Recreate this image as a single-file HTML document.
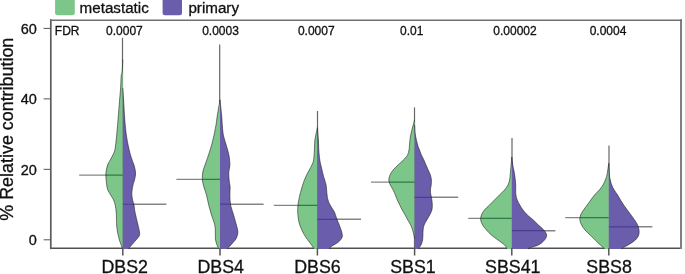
<!DOCTYPE html>
<html><head><meta charset="utf-8"><style>
html,body{margin:0;padding:0;background:#fff;}
body{width:685px;height:274px;overflow:hidden;}
svg{display:block;}
text{font-family:"Liberation Sans",sans-serif;fill:#111;stroke:#111;stroke-width:0.3px;}
svg{will-change:transform;}
.lg{font-size:15.2px;}
.pv{font-size:12px;}
.xl{font-size:17.8px;}
.yt{font-size:14.5px;}
.yl{font-size:17.9px;}
</style></head><body>
<svg width="685" height="274" viewBox="0 0 685 274">
<rect x="0" y="0" width="685" height="274" fill="#fff"/>
<rect x="55.1" y="-6" width="19.7" height="21.3" rx="2.5" fill="#7dc68a"/>
<rect x="162.6" y="-6" width="19.4" height="21.3" rx="2.5" fill="#6a5eac"/>
<text x="79.6" y="12.7" class="lg">metastatic</text>
<text x="188.4" y="12.7" class="lg">primary</text>
<line x1="50.1" y1="248.3" x2="681.9" y2="248.3" stroke="#505050" stroke-width="1.6"/>
<line x1="122.50" y1="37.80" x2="122.50" y2="248.50" stroke="#666" stroke-width="1.2"/>
<line x1="79.20" y1="175.10" x2="122.80" y2="175.10" stroke="#000" stroke-opacity="0.48" stroke-width="1.4"/>
<line x1="122.80" y1="204.25" x2="166.40" y2="204.25" stroke="#000" stroke-opacity="0.48" stroke-width="1.4"/>
<clipPath id="gDBS2"><path d="M122.80,59.50 C122.75,60.58 122.62,63.92 122.50,66.00 C122.38,68.08 122.32,70.33 122.10,72.00 C121.88,73.67 121.45,73.33 121.20,76.00 C120.95,78.67 120.87,84.00 120.60,88.00 C120.33,92.00 120.03,94.67 119.60,100.00 C119.17,105.33 118.50,114.00 118.00,120.00 C117.50,126.00 117.00,131.83 116.60,136.00 C116.20,140.17 115.98,142.33 115.60,145.00 C115.22,147.67 115.20,149.50 114.30,152.00 C113.40,154.50 111.32,157.83 110.20,160.00 C109.08,162.17 108.32,162.83 107.60,165.00 C106.88,167.17 106.13,170.50 105.90,173.00 C105.67,175.50 106.07,178.00 106.20,180.00 C106.33,182.00 106.43,183.33 106.70,185.00 C106.97,186.67 107.13,188.33 107.80,190.00 C108.47,191.67 109.73,193.33 110.70,195.00 C111.67,196.67 112.85,198.33 113.60,200.00 C114.35,201.67 114.77,203.00 115.20,205.00 C115.63,207.00 115.98,209.50 116.20,212.00 C116.42,214.50 116.43,217.83 116.50,220.00 C116.57,222.17 116.43,223.00 116.60,225.00 C116.77,227.00 117.03,229.50 117.50,232.00 C117.97,234.50 118.78,237.83 119.40,240.00 C120.02,242.17 120.72,243.67 121.20,245.00 C121.68,246.33 122.12,247.32 122.30,248.00 C122.48,248.68 122.30,248.92 122.30,249.10 L122.80,249.10 Z"/></clipPath><clipPath id="pDBS2"><path d="M122.80,88.00 C122.93,90.00 123.27,94.67 123.60,100.00 C123.93,105.33 124.32,114.00 124.80,120.00 C125.28,126.00 125.77,131.00 126.50,136.00 C127.23,141.00 128.27,146.00 129.20,150.00 C130.13,154.00 131.30,157.50 132.10,160.00 C132.90,162.50 133.42,162.83 134.00,165.00 C134.58,167.17 135.52,170.50 135.60,173.00 C135.68,175.50 134.93,178.00 134.50,180.00 C134.07,182.00 133.45,182.83 133.00,185.00 C132.55,187.17 131.87,190.50 131.80,193.00 C131.73,195.50 132.23,198.00 132.60,200.00 C132.97,202.00 133.60,203.00 134.00,205.00 C134.40,207.00 134.33,208.67 135.00,212.00 C135.67,215.33 137.25,221.67 138.00,225.00 C138.75,228.33 139.30,230.17 139.50,232.00 C139.70,233.83 139.78,234.67 139.20,236.00 C138.62,237.33 136.97,238.83 136.00,240.00 C135.03,241.17 134.27,242.00 133.40,243.00 C132.53,244.00 131.52,245.17 130.80,246.00 C130.08,246.83 129.38,247.48 129.10,248.00 C128.82,248.52 129.10,248.92 129.10,249.10 L122.80,249.10 Z"/></clipPath>
<path d="M122.80,59.50 C122.75,60.58 122.62,63.92 122.50,66.00 C122.38,68.08 122.32,70.33 122.10,72.00 C121.88,73.67 121.45,73.33 121.20,76.00 C120.95,78.67 120.87,84.00 120.60,88.00 C120.33,92.00 120.03,94.67 119.60,100.00 C119.17,105.33 118.50,114.00 118.00,120.00 C117.50,126.00 117.00,131.83 116.60,136.00 C116.20,140.17 115.98,142.33 115.60,145.00 C115.22,147.67 115.20,149.50 114.30,152.00 C113.40,154.50 111.32,157.83 110.20,160.00 C109.08,162.17 108.32,162.83 107.60,165.00 C106.88,167.17 106.13,170.50 105.90,173.00 C105.67,175.50 106.07,178.00 106.20,180.00 C106.33,182.00 106.43,183.33 106.70,185.00 C106.97,186.67 107.13,188.33 107.80,190.00 C108.47,191.67 109.73,193.33 110.70,195.00 C111.67,196.67 112.85,198.33 113.60,200.00 C114.35,201.67 114.77,203.00 115.20,205.00 C115.63,207.00 115.98,209.50 116.20,212.00 C116.42,214.50 116.43,217.83 116.50,220.00 C116.57,222.17 116.43,223.00 116.60,225.00 C116.77,227.00 117.03,229.50 117.50,232.00 C117.97,234.50 118.78,237.83 119.40,240.00 C120.02,242.17 120.72,243.67 121.20,245.00 C121.68,246.33 122.12,247.32 122.30,248.00 C122.48,248.68 122.30,248.92 122.30,249.10 L122.80,249.10 Z" fill="#7dc68a"/>
<path d="M122.80,88.00 C122.93,90.00 123.27,94.67 123.60,100.00 C123.93,105.33 124.32,114.00 124.80,120.00 C125.28,126.00 125.77,131.00 126.50,136.00 C127.23,141.00 128.27,146.00 129.20,150.00 C130.13,154.00 131.30,157.50 132.10,160.00 C132.90,162.50 133.42,162.83 134.00,165.00 C134.58,167.17 135.52,170.50 135.60,173.00 C135.68,175.50 134.93,178.00 134.50,180.00 C134.07,182.00 133.45,182.83 133.00,185.00 C132.55,187.17 131.87,190.50 131.80,193.00 C131.73,195.50 132.23,198.00 132.60,200.00 C132.97,202.00 133.60,203.00 134.00,205.00 C134.40,207.00 134.33,208.67 135.00,212.00 C135.67,215.33 137.25,221.67 138.00,225.00 C138.75,228.33 139.30,230.17 139.50,232.00 C139.70,233.83 139.78,234.67 139.20,236.00 C138.62,237.33 136.97,238.83 136.00,240.00 C135.03,241.17 134.27,242.00 133.40,243.00 C132.53,244.00 131.52,245.17 130.80,246.00 C130.08,246.83 129.38,247.48 129.10,248.00 C128.82,248.52 129.10,248.92 129.10,249.10 L122.80,249.10 Z" fill="#6a5eac"/>
<line x1="79.20" y1="175.10" x2="122.80" y2="175.10" stroke="#2f7a48" stroke-width="1.2" clip-path="url(#gDBS2)"/>
<line x1="122.80" y1="204.25" x2="166.40" y2="204.25" stroke="#4b3e8e" stroke-width="1.2" clip-path="url(#pDBS2)"/>
<path d="M122.80,59.50 C122.75,60.58 122.62,63.92 122.50,66.00 C122.38,68.08 122.32,70.33 122.10,72.00 C121.88,73.67 121.45,73.33 121.20,76.00 C120.95,78.67 120.87,84.00 120.60,88.00 C120.33,92.00 120.03,94.67 119.60,100.00 C119.17,105.33 118.50,114.00 118.00,120.00 C117.50,126.00 117.00,131.83 116.60,136.00 C116.20,140.17 115.98,142.33 115.60,145.00 C115.22,147.67 115.20,149.50 114.30,152.00 C113.40,154.50 111.32,157.83 110.20,160.00 C109.08,162.17 108.32,162.83 107.60,165.00 C106.88,167.17 106.13,170.50 105.90,173.00 C105.67,175.50 106.07,178.00 106.20,180.00 C106.33,182.00 106.43,183.33 106.70,185.00 C106.97,186.67 107.13,188.33 107.80,190.00 C108.47,191.67 109.73,193.33 110.70,195.00 C111.67,196.67 112.85,198.33 113.60,200.00 C114.35,201.67 114.77,203.00 115.20,205.00 C115.63,207.00 115.98,209.50 116.20,212.00 C116.42,214.50 116.43,217.83 116.50,220.00 C116.57,222.17 116.43,223.00 116.60,225.00 C116.77,227.00 117.03,229.50 117.50,232.00 C117.97,234.50 118.78,237.83 119.40,240.00 C120.02,242.17 120.72,243.67 121.20,245.00 C121.68,246.33 122.12,247.32 122.30,248.00 C122.48,248.68 122.30,248.92 122.30,249.10" fill="none" stroke="#1a1a1a" stroke-opacity="0.75" stroke-width="0.75"/>
<path d="M122.80,88.00 C122.93,90.00 123.27,94.67 123.60,100.00 C123.93,105.33 124.32,114.00 124.80,120.00 C125.28,126.00 125.77,131.00 126.50,136.00 C127.23,141.00 128.27,146.00 129.20,150.00 C130.13,154.00 131.30,157.50 132.10,160.00 C132.90,162.50 133.42,162.83 134.00,165.00 C134.58,167.17 135.52,170.50 135.60,173.00 C135.68,175.50 134.93,178.00 134.50,180.00 C134.07,182.00 133.45,182.83 133.00,185.00 C132.55,187.17 131.87,190.50 131.80,193.00 C131.73,195.50 132.23,198.00 132.60,200.00 C132.97,202.00 133.60,203.00 134.00,205.00 C134.40,207.00 134.33,208.67 135.00,212.00 C135.67,215.33 137.25,221.67 138.00,225.00 C138.75,228.33 139.30,230.17 139.50,232.00 C139.70,233.83 139.78,234.67 139.20,236.00 C138.62,237.33 136.97,238.83 136.00,240.00 C135.03,241.17 134.27,242.00 133.40,243.00 C132.53,244.00 131.52,245.17 130.80,246.00 C130.08,246.83 129.38,247.48 129.10,248.00 C128.82,248.52 129.10,248.92 129.10,249.10" fill="none" stroke="#1a1a1a" stroke-opacity="0.75" stroke-width="0.75"/>
<line x1="122.80" y1="248.00" x2="122.80" y2="255.50" stroke="#555" stroke-width="1.5"/>
<text x="124.70" y="273.2" class="xl" text-anchor="middle">DBS2</text>
<text x="124.40" y="35.2" class="pv" text-anchor="middle">0.0007</text>
<line x1="219.70" y1="44.50" x2="219.70" y2="248.50" stroke="#666" stroke-width="1.2"/>
<line x1="176.40" y1="179.40" x2="220.00" y2="179.40" stroke="#000" stroke-opacity="0.48" stroke-width="1.4"/>
<line x1="220.00" y1="204.20" x2="263.60" y2="204.20" stroke="#000" stroke-opacity="0.48" stroke-width="1.4"/>
<clipPath id="gDBS4"><path d="M220.00,99.80 C219.57,102.33 218.07,110.80 217.40,115.00 C216.73,119.20 216.55,121.67 216.00,125.00 C215.45,128.33 214.83,131.67 214.10,135.00 C213.37,138.33 212.53,141.67 211.60,145.00 C210.67,148.33 209.60,151.67 208.50,155.00 C207.40,158.33 205.95,162.17 205.00,165.00 C204.05,167.83 203.23,169.50 202.80,172.00 C202.37,174.50 202.22,177.50 202.40,180.00 C202.58,182.50 203.22,184.50 203.90,187.00 C204.58,189.50 205.70,192.00 206.50,195.00 C207.30,198.00 207.87,201.67 208.70,205.00 C209.53,208.33 210.48,211.67 211.50,215.00 C212.52,218.33 214.17,222.17 214.80,225.00 C215.43,227.83 215.20,229.83 215.30,232.00 C215.40,234.17 215.28,236.33 215.40,238.00 C215.52,239.67 215.67,240.67 216.00,242.00 C216.33,243.33 216.98,245.00 217.40,246.00 C217.82,247.00 218.32,247.48 218.50,248.00 C218.68,248.52 218.50,248.92 218.50,249.10 L220.00,249.10 Z"/></clipPath><clipPath id="pDBS4"><path d="M220.00,99.80 C220.27,102.33 221.22,110.80 221.60,115.00 C221.98,119.20 222.02,121.67 222.30,125.00 C222.58,128.33 222.65,131.67 223.30,135.00 C223.95,138.33 225.27,141.67 226.20,145.00 C227.13,148.33 228.28,151.67 228.90,155.00 C229.52,158.33 229.92,162.17 229.90,165.00 C229.88,167.83 228.93,169.50 228.80,172.00 C228.67,174.50 228.88,177.50 229.10,180.00 C229.32,182.50 229.97,184.50 230.10,187.00 C230.23,189.50 229.82,192.00 229.90,195.00 C229.98,198.00 229.98,201.67 230.60,205.00 C231.22,208.33 232.63,211.67 233.60,215.00 C234.57,218.33 235.68,222.17 236.40,225.00 C237.12,227.83 237.90,229.83 237.90,232.00 C237.90,234.17 237.13,236.33 236.40,238.00 C235.67,239.67 234.58,240.67 233.50,242.00 C232.42,243.33 230.90,245.00 229.90,246.00 C228.90,247.00 227.90,247.48 227.50,248.00 C227.10,248.52 227.50,248.92 227.50,249.10 L220.00,249.10 Z"/></clipPath>
<path d="M220.00,99.80 C219.57,102.33 218.07,110.80 217.40,115.00 C216.73,119.20 216.55,121.67 216.00,125.00 C215.45,128.33 214.83,131.67 214.10,135.00 C213.37,138.33 212.53,141.67 211.60,145.00 C210.67,148.33 209.60,151.67 208.50,155.00 C207.40,158.33 205.95,162.17 205.00,165.00 C204.05,167.83 203.23,169.50 202.80,172.00 C202.37,174.50 202.22,177.50 202.40,180.00 C202.58,182.50 203.22,184.50 203.90,187.00 C204.58,189.50 205.70,192.00 206.50,195.00 C207.30,198.00 207.87,201.67 208.70,205.00 C209.53,208.33 210.48,211.67 211.50,215.00 C212.52,218.33 214.17,222.17 214.80,225.00 C215.43,227.83 215.20,229.83 215.30,232.00 C215.40,234.17 215.28,236.33 215.40,238.00 C215.52,239.67 215.67,240.67 216.00,242.00 C216.33,243.33 216.98,245.00 217.40,246.00 C217.82,247.00 218.32,247.48 218.50,248.00 C218.68,248.52 218.50,248.92 218.50,249.10 L220.00,249.10 Z" fill="#7dc68a"/>
<path d="M220.00,99.80 C220.27,102.33 221.22,110.80 221.60,115.00 C221.98,119.20 222.02,121.67 222.30,125.00 C222.58,128.33 222.65,131.67 223.30,135.00 C223.95,138.33 225.27,141.67 226.20,145.00 C227.13,148.33 228.28,151.67 228.90,155.00 C229.52,158.33 229.92,162.17 229.90,165.00 C229.88,167.83 228.93,169.50 228.80,172.00 C228.67,174.50 228.88,177.50 229.10,180.00 C229.32,182.50 229.97,184.50 230.10,187.00 C230.23,189.50 229.82,192.00 229.90,195.00 C229.98,198.00 229.98,201.67 230.60,205.00 C231.22,208.33 232.63,211.67 233.60,215.00 C234.57,218.33 235.68,222.17 236.40,225.00 C237.12,227.83 237.90,229.83 237.90,232.00 C237.90,234.17 237.13,236.33 236.40,238.00 C235.67,239.67 234.58,240.67 233.50,242.00 C232.42,243.33 230.90,245.00 229.90,246.00 C228.90,247.00 227.90,247.48 227.50,248.00 C227.10,248.52 227.50,248.92 227.50,249.10 L220.00,249.10 Z" fill="#6a5eac"/>
<line x1="176.40" y1="179.40" x2="220.00" y2="179.40" stroke="#2f7a48" stroke-width="1.2" clip-path="url(#gDBS4)"/>
<line x1="220.00" y1="204.20" x2="263.60" y2="204.20" stroke="#4b3e8e" stroke-width="1.2" clip-path="url(#pDBS4)"/>
<path d="M220.00,99.80 C219.57,102.33 218.07,110.80 217.40,115.00 C216.73,119.20 216.55,121.67 216.00,125.00 C215.45,128.33 214.83,131.67 214.10,135.00 C213.37,138.33 212.53,141.67 211.60,145.00 C210.67,148.33 209.60,151.67 208.50,155.00 C207.40,158.33 205.95,162.17 205.00,165.00 C204.05,167.83 203.23,169.50 202.80,172.00 C202.37,174.50 202.22,177.50 202.40,180.00 C202.58,182.50 203.22,184.50 203.90,187.00 C204.58,189.50 205.70,192.00 206.50,195.00 C207.30,198.00 207.87,201.67 208.70,205.00 C209.53,208.33 210.48,211.67 211.50,215.00 C212.52,218.33 214.17,222.17 214.80,225.00 C215.43,227.83 215.20,229.83 215.30,232.00 C215.40,234.17 215.28,236.33 215.40,238.00 C215.52,239.67 215.67,240.67 216.00,242.00 C216.33,243.33 216.98,245.00 217.40,246.00 C217.82,247.00 218.32,247.48 218.50,248.00 C218.68,248.52 218.50,248.92 218.50,249.10" fill="none" stroke="#1a1a1a" stroke-opacity="0.75" stroke-width="0.75"/>
<path d="M220.00,99.80 C220.27,102.33 221.22,110.80 221.60,115.00 C221.98,119.20 222.02,121.67 222.30,125.00 C222.58,128.33 222.65,131.67 223.30,135.00 C223.95,138.33 225.27,141.67 226.20,145.00 C227.13,148.33 228.28,151.67 228.90,155.00 C229.52,158.33 229.92,162.17 229.90,165.00 C229.88,167.83 228.93,169.50 228.80,172.00 C228.67,174.50 228.88,177.50 229.10,180.00 C229.32,182.50 229.97,184.50 230.10,187.00 C230.23,189.50 229.82,192.00 229.90,195.00 C229.98,198.00 229.98,201.67 230.60,205.00 C231.22,208.33 232.63,211.67 233.60,215.00 C234.57,218.33 235.68,222.17 236.40,225.00 C237.12,227.83 237.90,229.83 237.90,232.00 C237.90,234.17 237.13,236.33 236.40,238.00 C235.67,239.67 234.58,240.67 233.50,242.00 C232.42,243.33 230.90,245.00 229.90,246.00 C228.90,247.00 227.90,247.48 227.50,248.00 C227.10,248.52 227.50,248.92 227.50,249.10" fill="none" stroke="#1a1a1a" stroke-opacity="0.75" stroke-width="0.75"/>
<line x1="220.00" y1="248.00" x2="220.00" y2="255.50" stroke="#555" stroke-width="1.5"/>
<text x="220.70" y="273.2" class="xl" text-anchor="middle">DBS4</text>
<text x="220.50" y="35.2" class="pv" text-anchor="middle">0.0003</text>
<line x1="317.50" y1="111.00" x2="317.50" y2="248.50" stroke="#666" stroke-width="1.2"/>
<line x1="273.80" y1="205.40" x2="317.40" y2="205.40" stroke="#000" stroke-opacity="0.48" stroke-width="1.4"/>
<line x1="317.40" y1="219.30" x2="361.00" y2="219.30" stroke="#000" stroke-opacity="0.48" stroke-width="1.4"/>
<clipPath id="gDBS6"><path d="M317.40,127.70 C316.98,129.75 315.40,136.28 314.90,140.00 C314.40,143.72 314.62,146.67 314.40,150.00 C314.18,153.33 314.02,157.50 313.60,160.00 C313.18,162.50 312.62,163.33 311.90,165.00 C311.18,166.67 310.18,168.33 309.30,170.00 C308.42,171.67 307.42,173.33 306.60,175.00 C305.78,176.67 305.05,178.33 304.40,180.00 C303.75,181.67 303.47,182.50 302.70,185.00 C301.93,187.50 300.45,192.50 299.80,195.00 C299.15,197.50 299.10,198.33 298.80,200.00 C298.50,201.67 298.18,203.00 298.00,205.00 C297.82,207.00 297.63,209.67 297.70,212.00 C297.77,214.33 298.05,216.83 298.40,219.00 C298.75,221.17 299.07,222.83 299.80,225.00 C300.53,227.17 301.82,230.00 302.80,232.00 C303.78,234.00 304.62,235.33 305.70,237.00 C306.78,238.67 308.20,240.50 309.30,242.00 C310.40,243.50 311.57,245.00 312.30,246.00 C313.03,247.00 313.47,247.48 313.70,248.00 C313.93,248.52 313.70,248.92 313.70,249.10 L317.40,249.10 Z"/></clipPath><clipPath id="pDBS6"><path d="M317.40,127.70 C317.57,129.75 318.17,136.28 318.40,140.00 C318.63,143.72 318.57,146.67 318.80,150.00 C319.03,153.33 319.38,157.17 319.80,160.00 C320.22,162.83 320.73,164.50 321.30,167.00 C321.87,169.50 322.63,172.83 323.20,175.00 C323.77,177.17 324.22,178.33 324.70,180.00 C325.18,181.67 325.70,182.50 326.10,185.00 C326.50,187.50 326.78,192.50 327.10,195.00 C327.42,197.50 327.50,198.33 328.00,200.00 C328.50,201.67 329.03,203.00 330.10,205.00 C331.17,207.00 333.28,209.67 334.40,212.00 C335.52,214.33 335.98,216.83 336.80,219.00 C337.62,221.17 338.48,222.83 339.30,225.00 C340.12,227.17 341.22,230.00 341.70,232.00 C342.18,234.00 342.73,235.33 342.20,237.00 C341.67,238.67 340.20,240.50 338.50,242.00 C336.80,243.50 333.45,245.00 332.00,246.00 C330.55,247.00 330.17,247.48 329.80,248.00 C329.43,248.52 329.80,248.92 329.80,249.10 L317.40,249.10 Z"/></clipPath>
<path d="M317.40,127.70 C316.98,129.75 315.40,136.28 314.90,140.00 C314.40,143.72 314.62,146.67 314.40,150.00 C314.18,153.33 314.02,157.50 313.60,160.00 C313.18,162.50 312.62,163.33 311.90,165.00 C311.18,166.67 310.18,168.33 309.30,170.00 C308.42,171.67 307.42,173.33 306.60,175.00 C305.78,176.67 305.05,178.33 304.40,180.00 C303.75,181.67 303.47,182.50 302.70,185.00 C301.93,187.50 300.45,192.50 299.80,195.00 C299.15,197.50 299.10,198.33 298.80,200.00 C298.50,201.67 298.18,203.00 298.00,205.00 C297.82,207.00 297.63,209.67 297.70,212.00 C297.77,214.33 298.05,216.83 298.40,219.00 C298.75,221.17 299.07,222.83 299.80,225.00 C300.53,227.17 301.82,230.00 302.80,232.00 C303.78,234.00 304.62,235.33 305.70,237.00 C306.78,238.67 308.20,240.50 309.30,242.00 C310.40,243.50 311.57,245.00 312.30,246.00 C313.03,247.00 313.47,247.48 313.70,248.00 C313.93,248.52 313.70,248.92 313.70,249.10 L317.40,249.10 Z" fill="#7dc68a"/>
<path d="M317.40,127.70 C317.57,129.75 318.17,136.28 318.40,140.00 C318.63,143.72 318.57,146.67 318.80,150.00 C319.03,153.33 319.38,157.17 319.80,160.00 C320.22,162.83 320.73,164.50 321.30,167.00 C321.87,169.50 322.63,172.83 323.20,175.00 C323.77,177.17 324.22,178.33 324.70,180.00 C325.18,181.67 325.70,182.50 326.10,185.00 C326.50,187.50 326.78,192.50 327.10,195.00 C327.42,197.50 327.50,198.33 328.00,200.00 C328.50,201.67 329.03,203.00 330.10,205.00 C331.17,207.00 333.28,209.67 334.40,212.00 C335.52,214.33 335.98,216.83 336.80,219.00 C337.62,221.17 338.48,222.83 339.30,225.00 C340.12,227.17 341.22,230.00 341.70,232.00 C342.18,234.00 342.73,235.33 342.20,237.00 C341.67,238.67 340.20,240.50 338.50,242.00 C336.80,243.50 333.45,245.00 332.00,246.00 C330.55,247.00 330.17,247.48 329.80,248.00 C329.43,248.52 329.80,248.92 329.80,249.10 L317.40,249.10 Z" fill="#6a5eac"/>
<line x1="273.80" y1="205.40" x2="317.40" y2="205.40" stroke="#2f7a48" stroke-width="1.2" clip-path="url(#gDBS6)"/>
<line x1="317.40" y1="219.30" x2="361.00" y2="219.30" stroke="#4b3e8e" stroke-width="1.2" clip-path="url(#pDBS6)"/>
<path d="M317.40,127.70 C316.98,129.75 315.40,136.28 314.90,140.00 C314.40,143.72 314.62,146.67 314.40,150.00 C314.18,153.33 314.02,157.50 313.60,160.00 C313.18,162.50 312.62,163.33 311.90,165.00 C311.18,166.67 310.18,168.33 309.30,170.00 C308.42,171.67 307.42,173.33 306.60,175.00 C305.78,176.67 305.05,178.33 304.40,180.00 C303.75,181.67 303.47,182.50 302.70,185.00 C301.93,187.50 300.45,192.50 299.80,195.00 C299.15,197.50 299.10,198.33 298.80,200.00 C298.50,201.67 298.18,203.00 298.00,205.00 C297.82,207.00 297.63,209.67 297.70,212.00 C297.77,214.33 298.05,216.83 298.40,219.00 C298.75,221.17 299.07,222.83 299.80,225.00 C300.53,227.17 301.82,230.00 302.80,232.00 C303.78,234.00 304.62,235.33 305.70,237.00 C306.78,238.67 308.20,240.50 309.30,242.00 C310.40,243.50 311.57,245.00 312.30,246.00 C313.03,247.00 313.47,247.48 313.70,248.00 C313.93,248.52 313.70,248.92 313.70,249.10" fill="none" stroke="#1a1a1a" stroke-opacity="0.75" stroke-width="0.75"/>
<path d="M317.40,127.70 C317.57,129.75 318.17,136.28 318.40,140.00 C318.63,143.72 318.57,146.67 318.80,150.00 C319.03,153.33 319.38,157.17 319.80,160.00 C320.22,162.83 320.73,164.50 321.30,167.00 C321.87,169.50 322.63,172.83 323.20,175.00 C323.77,177.17 324.22,178.33 324.70,180.00 C325.18,181.67 325.70,182.50 326.10,185.00 C326.50,187.50 326.78,192.50 327.10,195.00 C327.42,197.50 327.50,198.33 328.00,200.00 C328.50,201.67 329.03,203.00 330.10,205.00 C331.17,207.00 333.28,209.67 334.40,212.00 C335.52,214.33 335.98,216.83 336.80,219.00 C337.62,221.17 338.48,222.83 339.30,225.00 C340.12,227.17 341.22,230.00 341.70,232.00 C342.18,234.00 342.73,235.33 342.20,237.00 C341.67,238.67 340.20,240.50 338.50,242.00 C336.80,243.50 333.45,245.00 332.00,246.00 C330.55,247.00 330.17,247.48 329.80,248.00 C329.43,248.52 329.80,248.92 329.80,249.10" fill="none" stroke="#1a1a1a" stroke-opacity="0.75" stroke-width="0.75"/>
<line x1="317.40" y1="248.00" x2="317.40" y2="255.50" stroke="#555" stroke-width="1.5"/>
<text x="317.50" y="273.2" class="xl" text-anchor="middle">DBS6</text>
<text x="316.30" y="35.2" class="pv" text-anchor="middle">0.0007</text>
<line x1="414.50" y1="107.40" x2="414.50" y2="248.50" stroke="#666" stroke-width="1.2"/>
<line x1="371.00" y1="182.10" x2="414.60" y2="182.10" stroke="#000" stroke-opacity="0.48" stroke-width="1.4"/>
<line x1="414.60" y1="197.30" x2="458.20" y2="197.30" stroke="#000" stroke-opacity="0.48" stroke-width="1.4"/>
<clipPath id="gSBS1"><path d="M414.60,119.80 C413.95,122.33 411.55,130.80 410.70,135.00 C409.85,139.20 409.78,142.50 409.50,145.00 C409.22,147.50 409.32,148.33 409.00,150.00 C408.68,151.67 408.22,153.67 407.60,155.00 C406.98,156.33 406.00,157.17 405.30,158.00 C404.60,158.83 404.25,159.17 403.40,160.00 C402.55,160.83 401.10,162.17 400.20,163.00 C399.30,163.83 399.18,163.83 398.00,165.00 C396.82,166.17 394.43,168.33 393.10,170.00 C391.77,171.67 390.72,173.33 390.00,175.00 C389.28,176.67 388.75,178.33 388.80,180.00 C388.85,181.67 389.57,183.33 390.30,185.00 C391.03,186.67 392.35,188.33 393.20,190.00 C394.05,191.67 394.72,193.33 395.40,195.00 C396.08,196.67 396.57,198.33 397.30,200.00 C398.03,201.67 398.98,203.33 399.80,205.00 C400.62,206.67 401.30,208.33 402.20,210.00 C403.10,211.67 404.27,213.33 405.20,215.00 C406.13,216.67 406.88,218.33 407.80,220.00 C408.72,221.67 409.90,223.33 410.70,225.00 C411.50,226.67 412.07,228.33 412.60,230.00 C413.13,231.67 413.57,233.58 413.90,235.00 C414.23,236.42 414.48,237.92 414.60,238.50 L414.60,238.50 Z"/></clipPath><clipPath id="pSBS1"><path d="M414.60,125.00 C414.73,126.67 414.88,131.67 415.40,135.00 C415.92,138.33 417.02,142.50 417.70,145.00 C418.38,147.50 418.88,148.33 419.50,150.00 C420.12,151.67 420.67,153.33 421.40,155.00 C422.13,156.67 423.13,158.33 423.90,160.00 C424.67,161.67 425.28,163.33 426.00,165.00 C426.72,166.67 427.47,168.33 428.20,170.00 C428.93,171.67 429.87,173.33 430.40,175.00 C430.93,176.67 431.27,178.33 431.40,180.00 C431.53,181.67 431.37,183.33 431.20,185.00 C431.03,186.67 430.45,188.33 430.40,190.00 C430.35,191.67 430.65,193.33 430.90,195.00 C431.15,196.67 431.67,198.33 431.90,200.00 C432.13,201.67 432.30,203.33 432.30,205.00 C432.30,206.67 432.33,208.33 431.90,210.00 C431.47,211.67 430.55,213.33 429.70,215.00 C428.85,216.67 427.73,218.33 426.80,220.00 C425.87,221.67 424.72,223.33 424.10,225.00 C423.48,226.67 423.30,228.33 423.10,230.00 C422.90,231.67 422.98,233.33 422.90,235.00 C422.82,236.67 422.92,238.33 422.60,240.00 C422.28,241.67 421.63,243.67 421.00,245.00 C420.37,246.33 419.17,247.32 418.80,248.00 C418.43,248.68 418.80,248.92 418.80,249.10 L414.60,249.10 Z"/></clipPath>
<path d="M414.60,119.80 C413.95,122.33 411.55,130.80 410.70,135.00 C409.85,139.20 409.78,142.50 409.50,145.00 C409.22,147.50 409.32,148.33 409.00,150.00 C408.68,151.67 408.22,153.67 407.60,155.00 C406.98,156.33 406.00,157.17 405.30,158.00 C404.60,158.83 404.25,159.17 403.40,160.00 C402.55,160.83 401.10,162.17 400.20,163.00 C399.30,163.83 399.18,163.83 398.00,165.00 C396.82,166.17 394.43,168.33 393.10,170.00 C391.77,171.67 390.72,173.33 390.00,175.00 C389.28,176.67 388.75,178.33 388.80,180.00 C388.85,181.67 389.57,183.33 390.30,185.00 C391.03,186.67 392.35,188.33 393.20,190.00 C394.05,191.67 394.72,193.33 395.40,195.00 C396.08,196.67 396.57,198.33 397.30,200.00 C398.03,201.67 398.98,203.33 399.80,205.00 C400.62,206.67 401.30,208.33 402.20,210.00 C403.10,211.67 404.27,213.33 405.20,215.00 C406.13,216.67 406.88,218.33 407.80,220.00 C408.72,221.67 409.90,223.33 410.70,225.00 C411.50,226.67 412.07,228.33 412.60,230.00 C413.13,231.67 413.57,233.58 413.90,235.00 C414.23,236.42 414.48,237.92 414.60,238.50 L414.60,238.50 Z" fill="#7dc68a"/>
<path d="M414.60,125.00 C414.73,126.67 414.88,131.67 415.40,135.00 C415.92,138.33 417.02,142.50 417.70,145.00 C418.38,147.50 418.88,148.33 419.50,150.00 C420.12,151.67 420.67,153.33 421.40,155.00 C422.13,156.67 423.13,158.33 423.90,160.00 C424.67,161.67 425.28,163.33 426.00,165.00 C426.72,166.67 427.47,168.33 428.20,170.00 C428.93,171.67 429.87,173.33 430.40,175.00 C430.93,176.67 431.27,178.33 431.40,180.00 C431.53,181.67 431.37,183.33 431.20,185.00 C431.03,186.67 430.45,188.33 430.40,190.00 C430.35,191.67 430.65,193.33 430.90,195.00 C431.15,196.67 431.67,198.33 431.90,200.00 C432.13,201.67 432.30,203.33 432.30,205.00 C432.30,206.67 432.33,208.33 431.90,210.00 C431.47,211.67 430.55,213.33 429.70,215.00 C428.85,216.67 427.73,218.33 426.80,220.00 C425.87,221.67 424.72,223.33 424.10,225.00 C423.48,226.67 423.30,228.33 423.10,230.00 C422.90,231.67 422.98,233.33 422.90,235.00 C422.82,236.67 422.92,238.33 422.60,240.00 C422.28,241.67 421.63,243.67 421.00,245.00 C420.37,246.33 419.17,247.32 418.80,248.00 C418.43,248.68 418.80,248.92 418.80,249.10 L414.60,249.10 Z" fill="#6a5eac"/>
<line x1="371.00" y1="182.10" x2="414.60" y2="182.10" stroke="#2f7a48" stroke-width="1.2" clip-path="url(#gSBS1)"/>
<line x1="414.60" y1="197.30" x2="458.20" y2="197.30" stroke="#4b3e8e" stroke-width="1.2" clip-path="url(#pSBS1)"/>
<path d="M414.60,119.80 C413.95,122.33 411.55,130.80 410.70,135.00 C409.85,139.20 409.78,142.50 409.50,145.00 C409.22,147.50 409.32,148.33 409.00,150.00 C408.68,151.67 408.22,153.67 407.60,155.00 C406.98,156.33 406.00,157.17 405.30,158.00 C404.60,158.83 404.25,159.17 403.40,160.00 C402.55,160.83 401.10,162.17 400.20,163.00 C399.30,163.83 399.18,163.83 398.00,165.00 C396.82,166.17 394.43,168.33 393.10,170.00 C391.77,171.67 390.72,173.33 390.00,175.00 C389.28,176.67 388.75,178.33 388.80,180.00 C388.85,181.67 389.57,183.33 390.30,185.00 C391.03,186.67 392.35,188.33 393.20,190.00 C394.05,191.67 394.72,193.33 395.40,195.00 C396.08,196.67 396.57,198.33 397.30,200.00 C398.03,201.67 398.98,203.33 399.80,205.00 C400.62,206.67 401.30,208.33 402.20,210.00 C403.10,211.67 404.27,213.33 405.20,215.00 C406.13,216.67 406.88,218.33 407.80,220.00 C408.72,221.67 409.90,223.33 410.70,225.00 C411.50,226.67 412.07,228.33 412.60,230.00 C413.13,231.67 413.57,233.58 413.90,235.00 C414.23,236.42 414.48,237.92 414.60,238.50" fill="none" stroke="#1a1a1a" stroke-opacity="0.75" stroke-width="0.75"/>
<path d="M414.60,125.00 C414.73,126.67 414.88,131.67 415.40,135.00 C415.92,138.33 417.02,142.50 417.70,145.00 C418.38,147.50 418.88,148.33 419.50,150.00 C420.12,151.67 420.67,153.33 421.40,155.00 C422.13,156.67 423.13,158.33 423.90,160.00 C424.67,161.67 425.28,163.33 426.00,165.00 C426.72,166.67 427.47,168.33 428.20,170.00 C428.93,171.67 429.87,173.33 430.40,175.00 C430.93,176.67 431.27,178.33 431.40,180.00 C431.53,181.67 431.37,183.33 431.20,185.00 C431.03,186.67 430.45,188.33 430.40,190.00 C430.35,191.67 430.65,193.33 430.90,195.00 C431.15,196.67 431.67,198.33 431.90,200.00 C432.13,201.67 432.30,203.33 432.30,205.00 C432.30,206.67 432.33,208.33 431.90,210.00 C431.47,211.67 430.55,213.33 429.70,215.00 C428.85,216.67 427.73,218.33 426.80,220.00 C425.87,221.67 424.72,223.33 424.10,225.00 C423.48,226.67 423.30,228.33 423.10,230.00 C422.90,231.67 422.98,233.33 422.90,235.00 C422.82,236.67 422.92,238.33 422.60,240.00 C422.28,241.67 421.63,243.67 421.00,245.00 C420.37,246.33 419.17,247.32 418.80,248.00 C418.43,248.68 418.80,248.92 418.80,249.10" fill="none" stroke="#1a1a1a" stroke-opacity="0.75" stroke-width="0.75"/>
<line x1="414.60" y1="248.00" x2="414.60" y2="255.50" stroke="#555" stroke-width="1.5"/>
<text x="412.90" y="273.2" class="xl" text-anchor="middle">SBS1</text>
<text x="411.70" y="35.2" class="pv" text-anchor="middle">0.01</text>
<line x1="512.00" y1="138.00" x2="512.00" y2="248.50" stroke="#666" stroke-width="1.2"/>
<line x1="468.20" y1="218.40" x2="511.80" y2="218.40" stroke="#000" stroke-opacity="0.48" stroke-width="1.4"/>
<line x1="511.80" y1="230.70" x2="555.40" y2="230.70" stroke="#000" stroke-opacity="0.48" stroke-width="1.4"/>
<clipPath id="gSBS41"><path d="M511.80,157.00 C511.68,158.33 511.30,162.83 511.10,165.00 C510.90,167.17 510.75,168.33 510.60,170.00 C510.45,171.67 510.37,173.33 510.20,175.00 C510.03,176.67 509.97,178.33 509.60,180.00 C509.23,181.67 508.85,183.33 508.00,185.00 C507.15,186.67 505.93,188.33 504.50,190.00 C503.07,191.67 501.07,193.33 499.40,195.00 C497.73,196.67 496.15,198.33 494.50,200.00 C492.85,201.67 491.18,203.33 489.50,205.00 C487.82,206.67 485.75,208.33 484.40,210.00 C483.05,211.67 482.02,213.33 481.40,215.00 C480.78,216.67 480.50,218.33 480.70,220.00 C480.90,221.67 481.63,223.33 482.60,225.00 C483.57,226.67 485.05,228.33 486.50,230.00 C487.95,231.67 489.38,233.33 491.30,235.00 C493.22,236.67 495.78,238.33 498.00,240.00 C500.22,241.67 503.18,243.67 504.60,245.00 C506.02,246.33 506.18,247.32 506.50,248.00 C506.82,248.68 506.50,248.92 506.50,249.10 L511.80,249.10 Z"/></clipPath><clipPath id="pSBS41"><path d="M511.80,157.00 C511.97,158.33 512.47,162.83 512.80,165.00 C513.13,167.17 513.48,168.33 513.80,170.00 C514.12,171.67 514.45,173.33 514.70,175.00 C514.95,176.67 515.13,178.33 515.30,180.00 C515.47,181.67 515.63,183.33 515.70,185.00 C515.77,186.67 515.67,188.33 515.70,190.00 C515.73,191.67 515.65,193.33 515.90,195.00 C516.15,196.67 516.55,198.33 517.20,200.00 C517.85,201.67 518.83,203.33 519.80,205.00 C520.77,206.67 521.73,208.33 523.00,210.00 C524.27,211.67 525.68,213.33 527.40,215.00 C529.12,216.67 531.47,218.33 533.30,220.00 C535.13,221.67 536.65,223.33 538.40,225.00 C540.15,226.67 542.43,228.33 543.80,230.00 C545.17,231.67 546.48,233.33 546.60,235.00 C546.72,236.67 545.87,238.33 544.50,240.00 C543.13,241.67 540.98,243.67 538.40,245.00 C535.82,246.33 530.57,247.32 529.00,248.00 C527.43,248.68 529.00,248.92 529.00,249.10 L511.80,249.10 Z"/></clipPath>
<path d="M511.80,157.00 C511.68,158.33 511.30,162.83 511.10,165.00 C510.90,167.17 510.75,168.33 510.60,170.00 C510.45,171.67 510.37,173.33 510.20,175.00 C510.03,176.67 509.97,178.33 509.60,180.00 C509.23,181.67 508.85,183.33 508.00,185.00 C507.15,186.67 505.93,188.33 504.50,190.00 C503.07,191.67 501.07,193.33 499.40,195.00 C497.73,196.67 496.15,198.33 494.50,200.00 C492.85,201.67 491.18,203.33 489.50,205.00 C487.82,206.67 485.75,208.33 484.40,210.00 C483.05,211.67 482.02,213.33 481.40,215.00 C480.78,216.67 480.50,218.33 480.70,220.00 C480.90,221.67 481.63,223.33 482.60,225.00 C483.57,226.67 485.05,228.33 486.50,230.00 C487.95,231.67 489.38,233.33 491.30,235.00 C493.22,236.67 495.78,238.33 498.00,240.00 C500.22,241.67 503.18,243.67 504.60,245.00 C506.02,246.33 506.18,247.32 506.50,248.00 C506.82,248.68 506.50,248.92 506.50,249.10 L511.80,249.10 Z" fill="#7dc68a"/>
<path d="M511.80,157.00 C511.97,158.33 512.47,162.83 512.80,165.00 C513.13,167.17 513.48,168.33 513.80,170.00 C514.12,171.67 514.45,173.33 514.70,175.00 C514.95,176.67 515.13,178.33 515.30,180.00 C515.47,181.67 515.63,183.33 515.70,185.00 C515.77,186.67 515.67,188.33 515.70,190.00 C515.73,191.67 515.65,193.33 515.90,195.00 C516.15,196.67 516.55,198.33 517.20,200.00 C517.85,201.67 518.83,203.33 519.80,205.00 C520.77,206.67 521.73,208.33 523.00,210.00 C524.27,211.67 525.68,213.33 527.40,215.00 C529.12,216.67 531.47,218.33 533.30,220.00 C535.13,221.67 536.65,223.33 538.40,225.00 C540.15,226.67 542.43,228.33 543.80,230.00 C545.17,231.67 546.48,233.33 546.60,235.00 C546.72,236.67 545.87,238.33 544.50,240.00 C543.13,241.67 540.98,243.67 538.40,245.00 C535.82,246.33 530.57,247.32 529.00,248.00 C527.43,248.68 529.00,248.92 529.00,249.10 L511.80,249.10 Z" fill="#6a5eac"/>
<line x1="468.20" y1="218.40" x2="511.80" y2="218.40" stroke="#2f7a48" stroke-width="1.2" clip-path="url(#gSBS41)"/>
<line x1="511.80" y1="230.70" x2="555.40" y2="230.70" stroke="#4b3e8e" stroke-width="1.2" clip-path="url(#pSBS41)"/>
<path d="M511.80,157.00 C511.68,158.33 511.30,162.83 511.10,165.00 C510.90,167.17 510.75,168.33 510.60,170.00 C510.45,171.67 510.37,173.33 510.20,175.00 C510.03,176.67 509.97,178.33 509.60,180.00 C509.23,181.67 508.85,183.33 508.00,185.00 C507.15,186.67 505.93,188.33 504.50,190.00 C503.07,191.67 501.07,193.33 499.40,195.00 C497.73,196.67 496.15,198.33 494.50,200.00 C492.85,201.67 491.18,203.33 489.50,205.00 C487.82,206.67 485.75,208.33 484.40,210.00 C483.05,211.67 482.02,213.33 481.40,215.00 C480.78,216.67 480.50,218.33 480.70,220.00 C480.90,221.67 481.63,223.33 482.60,225.00 C483.57,226.67 485.05,228.33 486.50,230.00 C487.95,231.67 489.38,233.33 491.30,235.00 C493.22,236.67 495.78,238.33 498.00,240.00 C500.22,241.67 503.18,243.67 504.60,245.00 C506.02,246.33 506.18,247.32 506.50,248.00 C506.82,248.68 506.50,248.92 506.50,249.10" fill="none" stroke="#1a1a1a" stroke-opacity="0.75" stroke-width="0.75"/>
<path d="M511.80,157.00 C511.97,158.33 512.47,162.83 512.80,165.00 C513.13,167.17 513.48,168.33 513.80,170.00 C514.12,171.67 514.45,173.33 514.70,175.00 C514.95,176.67 515.13,178.33 515.30,180.00 C515.47,181.67 515.63,183.33 515.70,185.00 C515.77,186.67 515.67,188.33 515.70,190.00 C515.73,191.67 515.65,193.33 515.90,195.00 C516.15,196.67 516.55,198.33 517.20,200.00 C517.85,201.67 518.83,203.33 519.80,205.00 C520.77,206.67 521.73,208.33 523.00,210.00 C524.27,211.67 525.68,213.33 527.40,215.00 C529.12,216.67 531.47,218.33 533.30,220.00 C535.13,221.67 536.65,223.33 538.40,225.00 C540.15,226.67 542.43,228.33 543.80,230.00 C545.17,231.67 546.48,233.33 546.60,235.00 C546.72,236.67 545.87,238.33 544.50,240.00 C543.13,241.67 540.98,243.67 538.40,245.00 C535.82,246.33 530.57,247.32 529.00,248.00 C527.43,248.68 529.00,248.92 529.00,249.10" fill="none" stroke="#1a1a1a" stroke-opacity="0.75" stroke-width="0.75"/>
<line x1="511.80" y1="248.00" x2="511.80" y2="255.50" stroke="#555" stroke-width="1.5"/>
<text x="512.80" y="273.2" class="xl" text-anchor="middle">SBS41</text>
<text x="515.00" y="35.2" class="pv" text-anchor="middle">0.00002</text>
<line x1="609.00" y1="145.50" x2="609.00" y2="248.50" stroke="#666" stroke-width="1.2"/>
<line x1="565.20" y1="217.60" x2="608.80" y2="217.60" stroke="#000" stroke-opacity="0.48" stroke-width="1.4"/>
<line x1="608.80" y1="226.80" x2="652.40" y2="226.80" stroke="#000" stroke-opacity="0.48" stroke-width="1.4"/>
<clipPath id="gSBS8"><path d="M608.80,163.40 C608.48,165.33 607.48,172.23 606.90,175.00 C606.32,177.77 605.95,178.33 605.30,180.00 C604.65,181.67 604.00,183.33 603.00,185.00 C602.00,186.67 600.72,188.33 599.30,190.00 C597.88,191.67 595.92,193.33 594.50,195.00 C593.08,196.67 592.02,198.33 590.80,200.00 C589.58,201.67 588.42,203.33 587.20,205.00 C585.98,206.67 584.60,208.33 583.50,210.00 C582.40,211.67 581.20,213.33 580.60,215.00 C580.00,216.67 579.73,218.33 579.90,220.00 C580.07,221.67 580.75,223.33 581.60,225.00 C582.45,226.67 583.58,228.33 585.00,230.00 C586.42,231.67 588.40,233.33 590.10,235.00 C591.80,236.67 593.50,238.33 595.20,240.00 C596.90,241.67 598.83,243.67 600.30,245.00 C601.77,246.33 603.38,247.32 604.00,248.00 C604.62,248.68 604.00,248.92 604.00,249.10 L608.80,249.10 Z"/></clipPath><clipPath id="pSBS8"><path d="M608.80,163.40 C608.90,165.33 609.15,172.23 609.40,175.00 C609.65,177.77 609.92,178.33 610.30,180.00 C610.68,181.67 611.05,183.33 611.70,185.00 C612.35,186.67 613.22,188.33 614.20,190.00 C615.18,191.67 616.55,193.33 617.60,195.00 C618.65,196.67 619.48,198.33 620.50,200.00 C621.52,201.67 622.57,203.33 623.70,205.00 C624.83,206.67 626.08,208.33 627.30,210.00 C628.52,211.67 629.78,213.33 631.00,215.00 C632.22,216.67 633.50,218.33 634.60,220.00 C635.70,221.67 636.87,223.33 637.60,225.00 C638.33,226.67 638.82,228.33 639.00,230.00 C639.18,231.67 639.30,233.33 638.70,235.00 C638.10,236.67 637.17,238.33 635.40,240.00 C633.63,241.67 630.30,243.67 628.10,245.00 C625.90,246.33 623.18,247.32 622.20,248.00 C621.22,248.68 622.20,248.92 622.20,249.10 L608.80,249.10 Z"/></clipPath>
<path d="M608.80,163.40 C608.48,165.33 607.48,172.23 606.90,175.00 C606.32,177.77 605.95,178.33 605.30,180.00 C604.65,181.67 604.00,183.33 603.00,185.00 C602.00,186.67 600.72,188.33 599.30,190.00 C597.88,191.67 595.92,193.33 594.50,195.00 C593.08,196.67 592.02,198.33 590.80,200.00 C589.58,201.67 588.42,203.33 587.20,205.00 C585.98,206.67 584.60,208.33 583.50,210.00 C582.40,211.67 581.20,213.33 580.60,215.00 C580.00,216.67 579.73,218.33 579.90,220.00 C580.07,221.67 580.75,223.33 581.60,225.00 C582.45,226.67 583.58,228.33 585.00,230.00 C586.42,231.67 588.40,233.33 590.10,235.00 C591.80,236.67 593.50,238.33 595.20,240.00 C596.90,241.67 598.83,243.67 600.30,245.00 C601.77,246.33 603.38,247.32 604.00,248.00 C604.62,248.68 604.00,248.92 604.00,249.10 L608.80,249.10 Z" fill="#7dc68a"/>
<path d="M608.80,163.40 C608.90,165.33 609.15,172.23 609.40,175.00 C609.65,177.77 609.92,178.33 610.30,180.00 C610.68,181.67 611.05,183.33 611.70,185.00 C612.35,186.67 613.22,188.33 614.20,190.00 C615.18,191.67 616.55,193.33 617.60,195.00 C618.65,196.67 619.48,198.33 620.50,200.00 C621.52,201.67 622.57,203.33 623.70,205.00 C624.83,206.67 626.08,208.33 627.30,210.00 C628.52,211.67 629.78,213.33 631.00,215.00 C632.22,216.67 633.50,218.33 634.60,220.00 C635.70,221.67 636.87,223.33 637.60,225.00 C638.33,226.67 638.82,228.33 639.00,230.00 C639.18,231.67 639.30,233.33 638.70,235.00 C638.10,236.67 637.17,238.33 635.40,240.00 C633.63,241.67 630.30,243.67 628.10,245.00 C625.90,246.33 623.18,247.32 622.20,248.00 C621.22,248.68 622.20,248.92 622.20,249.10 L608.80,249.10 Z" fill="#6a5eac"/>
<line x1="565.20" y1="217.60" x2="608.80" y2="217.60" stroke="#2f7a48" stroke-width="1.2" clip-path="url(#gSBS8)"/>
<line x1="608.80" y1="226.80" x2="652.40" y2="226.80" stroke="#4b3e8e" stroke-width="1.2" clip-path="url(#pSBS8)"/>
<path d="M608.80,163.40 C608.48,165.33 607.48,172.23 606.90,175.00 C606.32,177.77 605.95,178.33 605.30,180.00 C604.65,181.67 604.00,183.33 603.00,185.00 C602.00,186.67 600.72,188.33 599.30,190.00 C597.88,191.67 595.92,193.33 594.50,195.00 C593.08,196.67 592.02,198.33 590.80,200.00 C589.58,201.67 588.42,203.33 587.20,205.00 C585.98,206.67 584.60,208.33 583.50,210.00 C582.40,211.67 581.20,213.33 580.60,215.00 C580.00,216.67 579.73,218.33 579.90,220.00 C580.07,221.67 580.75,223.33 581.60,225.00 C582.45,226.67 583.58,228.33 585.00,230.00 C586.42,231.67 588.40,233.33 590.10,235.00 C591.80,236.67 593.50,238.33 595.20,240.00 C596.90,241.67 598.83,243.67 600.30,245.00 C601.77,246.33 603.38,247.32 604.00,248.00 C604.62,248.68 604.00,248.92 604.00,249.10" fill="none" stroke="#1a1a1a" stroke-opacity="0.75" stroke-width="0.75"/>
<path d="M608.80,163.40 C608.90,165.33 609.15,172.23 609.40,175.00 C609.65,177.77 609.92,178.33 610.30,180.00 C610.68,181.67 611.05,183.33 611.70,185.00 C612.35,186.67 613.22,188.33 614.20,190.00 C615.18,191.67 616.55,193.33 617.60,195.00 C618.65,196.67 619.48,198.33 620.50,200.00 C621.52,201.67 622.57,203.33 623.70,205.00 C624.83,206.67 626.08,208.33 627.30,210.00 C628.52,211.67 629.78,213.33 631.00,215.00 C632.22,216.67 633.50,218.33 634.60,220.00 C635.70,221.67 636.87,223.33 637.60,225.00 C638.33,226.67 638.82,228.33 639.00,230.00 C639.18,231.67 639.30,233.33 638.70,235.00 C638.10,236.67 637.17,238.33 635.40,240.00 C633.63,241.67 630.30,243.67 628.10,245.00 C625.90,246.33 623.18,247.32 622.20,248.00 C621.22,248.68 622.20,248.92 622.20,249.10" fill="none" stroke="#1a1a1a" stroke-opacity="0.75" stroke-width="0.75"/>
<line x1="608.80" y1="248.00" x2="608.80" y2="255.50" stroke="#555" stroke-width="1.5"/>
<text x="609.10" y="273.2" class="xl" text-anchor="middle">SBS8</text>
<text x="608.00" y="35.2" class="pv" text-anchor="middle">0.0004</text>
<line x1="50.8" y1="19.2" x2="50.8" y2="249.1" stroke="#5c5c5c" stroke-width="1.7"/>
<line x1="681.0" y1="19.2" x2="681.0" y2="249.1" stroke="#7f7f7f" stroke-width="2.0"/>
<line x1="50.1" y1="20.15" x2="681.9" y2="20.15" stroke="#707070" stroke-width="1.5"/>
<line x1="43.6" y1="239.80" x2="50.5" y2="239.80" stroke="#555" stroke-width="1"/>
<text x="36.8" y="245.40" class="yt" text-anchor="end">0</text>
<line x1="43.6" y1="169.34" x2="50.5" y2="169.34" stroke="#555" stroke-width="1"/>
<text x="36.8" y="174.94" class="yt" text-anchor="end">20</text>
<line x1="43.6" y1="98.88" x2="50.5" y2="98.88" stroke="#555" stroke-width="1"/>
<text x="36.8" y="104.48" class="yt" text-anchor="end">40</text>
<line x1="43.6" y1="28.42" x2="50.5" y2="28.42" stroke="#555" stroke-width="1"/>
<text x="36.8" y="34.02" class="yt" text-anchor="end">60</text>
<text x="54.8" y="35.2" class="pv">FDR</text>
<text transform="translate(13.3,129.2) rotate(-90)" class="yl" text-anchor="middle">% Relative contribution</text>
</svg>
</body></html>
